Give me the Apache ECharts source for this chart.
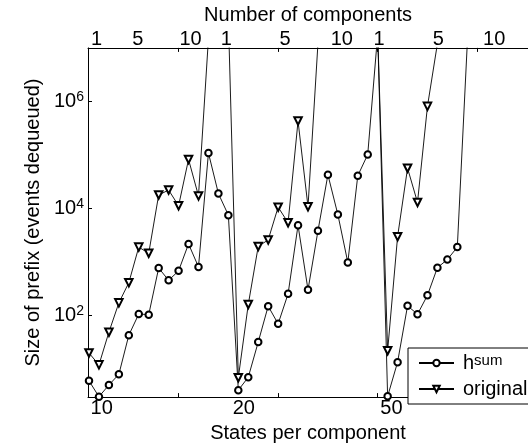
<!DOCTYPE html>
<html>
<head>
<meta charset="utf-8">
<script src="https://cdn.jsdelivr.net/npm/echarts@6/dist/echarts.min.js"></script>
<style>
  html, body { margin: 0; padding: 0; background: #fff; }
  #main { width: 528px; height: 448px; }
</style>
</head>
<body>
<div id="main"></div>
<script>
// states per component groups, 15 component counts each
var statesLabels = ['10', '20', '50'];
var statesLabelAt = [2.27, 16.55, 31.38];
var componentLabels = ['1', '5', '10', '1', '5', '10', '1', '5', '10'];
var componentLabelAt = [1.77, 5.9, 11.2, 14.8, 20.7, 26.4, 30.15, 36.1, 41.7];
var xTicks = [10, 20, 30, 40];
var yTicks = [1e2, 1e4, 1e6];

// h^sum
var hsum10 = [6.05, 3.05, 5.05, 8.0, 43, 107, 104, 774, 455, 684, 2183, 809, 109000, 19000, 7516];
var hsum20 = [4.04, 7.06, 32, 150, 70, 255, 4853, 303, 3828, 42700, 7710, 982, 40900, 102000, 18000000];
var hsum50 = [3.1, 13.5, 152, 106, 239, 785, 1114, 1900, 12000000];
// original
var original10 = [20, 12, 49, 173, 412, 1900, 1457, 17900, 22100, 11250, 82600, 17200, 15000000, 20000000, 36000000];
var original20 = [6.9, 161, 1955, 2592, 10600, 5430, 430000, 10800, 12000000, 20000000, 20000000, 20000000, 20000000, 20000000, 19000000];
var original50 = [22, 2980, 56600, 13000, 810000, 12000000];

function toPoints(groups) {
    var pts = [];
    groups.forEach(function (g, gi) {
        g.forEach(function (v, i) {
            pts.push([gi * 15 + i + 1, v]);
        });
    });
    return pts;
}

var font = "'Liberation Sans', Arial, sans-serif";

var chart = echarts.init(document.getElementById('main'));
var option = {
    animation: false,
    textStyle: { fontFamily: font, color: '#000' },
    grid: { left: 88, right: -2, top: 45, bottom: 46 },
    legend: {
        orient: 'vertical',
        left: 408,
        top: 348,
        padding: [5, 40, 5, 10],
        itemGap: 6,
        itemWidth: 35,
        itemHeight: 8,
        backgroundColor: '#fff',
        borderColor: '#000',
        borderWidth: 1,
        borderRadius: 0,
        data: ['hsum', 'original'],
        formatter: function (name) {
            return name === 'hsum' ? '{m|h}{s|sum}' : '{m|original}';
        },
        textStyle: {
            fontFamily: font,
            color: '#000',
            padding: [0, 0, 0, 4],
            rich: {
                m: { fontSize: 20, lineHeight: 20, fontFamily: font, color: '#000' },
                s: { fontSize: 15, verticalAlign: 'top', fontFamily: font, color: '#000' }
            }
        }
    },
    xAxis: [
        {
            type: 'value',
            min: 0.9,
            max: 45.1,
            position: 'bottom',
            name: 'States per component',
            nameLocation: 'middle',
            nameGap: 25,
            nameTextStyle: { fontSize: 20, fontFamily: font, color: '#000' },
            axisLine: { show: true, lineStyle: { color: '#000', width: 1 } },
            axisTick: { show: true, inside: true, length: 4, customValues: xTicks, lineStyle: { color: '#000' } },
            axisLabel: {
                customValues: statesLabelAt,
                margin: 1,
                fontSize: 20,
                fontFamily: font,
                color: '#000',
                formatter: function (v) {
                    var i = statesLabelAt.indexOf(v);
                    return i >= 0 ? statesLabels[i] : '';
                }
            },
            splitLine: { show: false }
        },
        {
            type: 'value',
            min: 0.9,
            max: 45.1,
            position: 'top',
            name: 'Number of components',
            nameLocation: 'middle',
            nameGap: 16,
            nameTextStyle: { fontSize: 20, fontFamily: font, color: '#000' },
            axisLine: { show: true, lineStyle: { color: '#000', width: 1 } },
            axisTick: { show: true, inside: true, length: 4, customValues: xTicks, lineStyle: { color: '#000' } },
            axisLabel: {
                customValues: componentLabelAt,
                margin: -2,
                fontSize: 20,
                fontFamily: font,
                color: '#000',
                formatter: function (v) {
                    var i = componentLabelAt.indexOf(v);
                    return i >= 0 ? componentLabels[i] : '';
                }
            },
            splitLine: { show: false }
        }
    ],
    yAxis: {
        type: 'log',
        logBase: 10,
        min: 3,
        max: 1e7,
        name: 'Size of prefix (events dequeued)',
        nameLocation: 'middle',
        nameGap: 44,
        nameTextStyle: { fontSize: 20, fontFamily: font, color: '#000' },
        axisLine: { show: true, lineStyle: { color: '#000', width: 1 } },
        axisTick: { show: true, inside: true, length: 4, customValues: yTicks, lineStyle: { color: '#000' } },
        axisLabel: {
            customValues: yTicks,
            margin: 4,
            formatter: function (v) {
                return '{m|10}{s|' + Math.round(Math.log(v) / Math.LN10) + '}';
            },
            rich: {
                m: { fontSize: 20, lineHeight: 22, fontFamily: font, color: '#000' },
                s: { fontSize: 14, verticalAlign: 'top', fontFamily: font, color: '#000' }
            }
        },
        splitLine: { show: false }
    },
    series: [
        {
            name: 'hsum',
            type: 'line',
            data: toPoints([hsum10, hsum20, hsum50]),
            symbol: 'emptyCircle',
            symbolSize: 6.5,
            color: '#000',
            lineStyle: { color: '#000', width: 0.9 },
            itemStyle: { color: '#000', borderColor: '#000', borderWidth: 0.9 },
            clip: true
        },
        {
            name: 'original',
            type: 'line',
            data: toPoints([original10, original20, original50]),
            symbol: 'emptyTriangle',
            symbolRotate: 180,
            symbolSize: 7.5,
            color: '#000',
            lineStyle: { color: '#000', width: 0.9 },
            itemStyle: { color: '#000', borderColor: '#000', borderWidth: 0.9 },
            clip: true
        }
    ]
};
chart.setOption(option);
</script>
</body>
</html>
